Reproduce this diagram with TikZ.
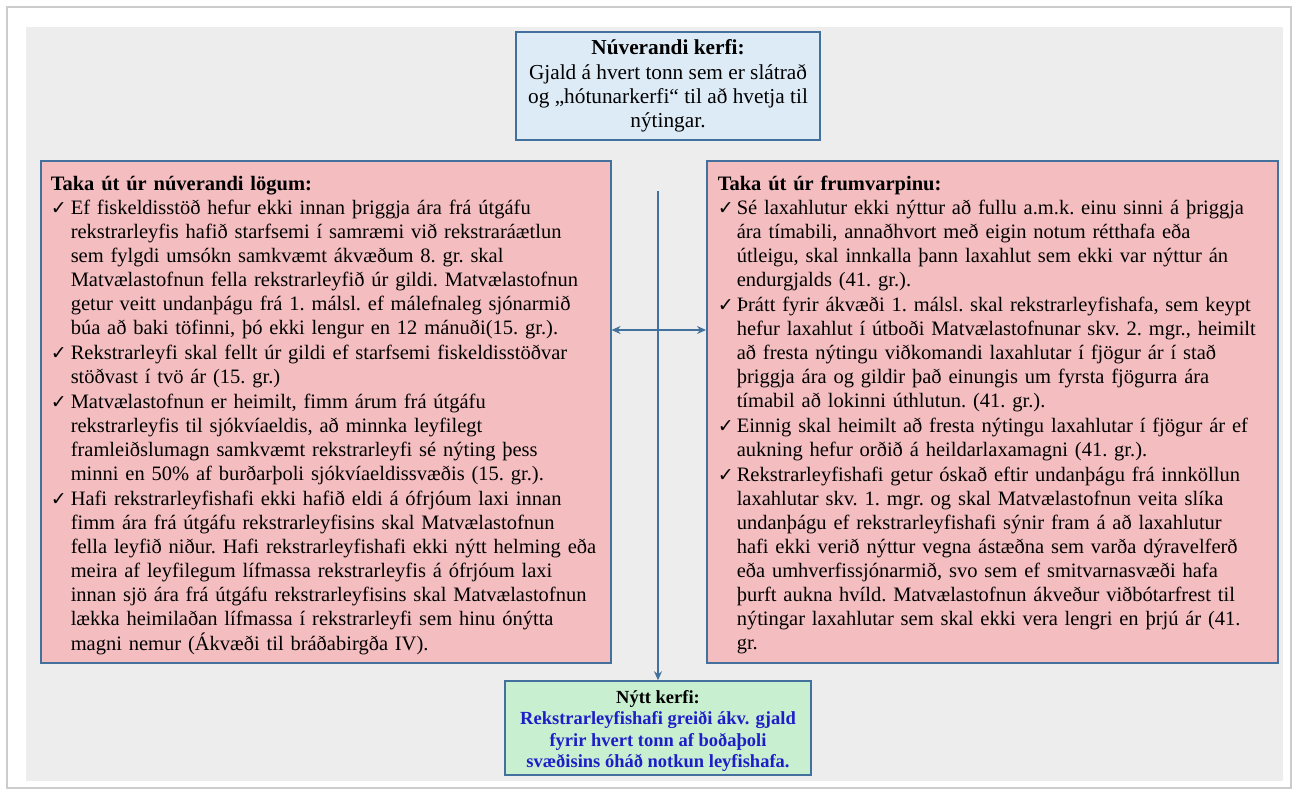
\documentclass[tikz,border=0pt]{standalone}
\usepackage{fontspec}
\setmainfont{Liberation Serif}
\newfontfamily\checkfont{DejaVu Sans}
\usetikzlibrary{arrows.meta}

\definecolor{panelgrey}{RGB}{237,237,237}
\definecolor{frameline}{RGB}{65,113,156}
\definecolor{pinkfill}{RGB}{244,190,193}
\definecolor{bluefill}{RGB}{221,235,247}
\definecolor{greenfill}{RGB}{200,240,208}
\definecolor{newtext}{RGB}{30,30,200}

% one ticked point: indent, then its lines
\newcommand{\chk}[2]{\par\noindent\makebox[#1][l]{\checkfont\fontsize{19}{19}\selectfont ✓}%
	\begin{tabular}[t]{@{}l@{}}#2\end{tabular}}
\newcommand{\boxhead}[1]{\rule{0pt}{24pt}{\fontsize{20.5}{24}\selectfont\textbf{#1}}}

\tikzset{
	lawbox/.style={draw=frameline, fill=pinkfill, line width=1.5pt, anchor=north west,
		inner xsep=10pt, inner ysep=3pt, minimum height=502pt,
		font=\fontsize{20.5}{24}\selectfont\frenchspacing},
	sysbox/.style={draw=frameline, line width=1.5pt, align=center, inner sep=4pt},
	link/.style={draw=frameline, line width=1.6pt}
}

\begin{document}
\begin{tikzpicture}[x=1pt, y=-1pt]
		\useasboundingbox (0,0) rectangle (1297,793);
		% page and grey panel
		\draw[white!80!black, line width=1.5pt, fill=white] (7,7) rectangle (1291,788);
		\fill[panelgrey] (26,27) rectangle (1283,781);

		\node[sysbox, fill=bluefill, minimum width=304pt, minimum height=108pt,
			font=\fontsize{21.3}{24.2}\selectfont] (oldsys) at (668,86)
			{\textbf{Núverandi kerfi:}\\ Gjald á hvert tonn sem er slátrað\\
			og „hótunarkerfi“ til að hvetja til\\ nýtingar.};

		\node[lawbox, text width=550pt] (oldlaw) at (40,160) {\parindent=0pt
			\boxhead{Taka út úr núverandi lögum:}
			\chk{20pt}{Ef fiskeldisstöð hefur ekki innan þriggja ára frá útgáfu\\
			rekstrarleyfis hafið starfsemi í samræmi við rekstraráætlun\\
			sem fylgdi umsókn samkvæmt ákvæðum 8. gr. skal\\
			Matvælastofnun fella rekstrarleyfið úr gildi. Matvælastofnun\\
			getur veitt undanþágu frá 1. málsl. ef málefnaleg sjónarmið\\
			búa að baki töfinni, þó ekki lengur en 12 mánuði(15. gr.).}
			\chk{20pt}{Rekstrarleyfi skal fellt úr gildi ef starfsemi fiskeldisstöðvar\\
			stöðvast í tvö ár (15. gr.)}
			\chk{20pt}{Matvælastofnun er heimilt, fimm árum frá útgáfu\\
			rekstrarleyfis til sjókvíaeldis, að minnka leyfilegt\\
			framleiðslumagn samkvæmt rekstrarleyfi sé nýting þess\\
			minni en 50\% af burðarþoli sjókvíaeldissvæðis (15. gr.).}
			\chk{20pt}{Hafi rekstrarleyfishafi ekki hafið eldi á ófrjóum laxi innan\\
			fimm ára frá útgáfu rekstrarleyfisins skal Matvælastofnun\\
			fella leyfið niður. Hafi rekstrarleyfishafi ekki nýtt helming eða\\
			meira af leyfilegum lífmassa rekstrarleyfis á ófrjóum laxi\\
			innan sjö ára frá útgáfu rekstrarleyfisins skal Matvælastofnun\\
			lækka heimilaðan lífmassa í rekstrarleyfi sem hinu ónýtta\\
			magni nemur (Ákvæði til bráðabirgða IV).}\par};

		\node[lawbox, text width=549pt, inner xsep=11pt] (bill) at (706,160) {\parindent=0pt
			\boxhead{Taka út úr frumvarpinu:}
			\chk{19pt}{Sé laxahlutur ekki nýttur að fullu a.m.k. einu sinni á þriggja\\
			ára tímabili, annaðhvort með eigin notum rétthafa eða\\
			útleigu, skal innkalla þann laxahlut sem ekki var nýttur án\\
			endurgjalds (41. gr.).}
			\chk{19pt}{Þrátt fyrir ákvæði 1. málsl. skal rekstrarleyfishafa, sem keypt\\
			hefur laxahlut í útboði Matvælastofnunar skv. 2. mgr., heimilt\\
			að fresta nýtingu viðkomandi laxahlutar í fjögur ár í stað\\
			þriggja ára og gildir það einungis um fyrsta fjögurra ára\\
			tímabil að lokinni úthlutun. (41. gr.).}
			\chk{19pt}{Einnig skal heimilt að fresta nýtingu laxahlutar í fjögur ár ef\\
			aukning hefur orðið á heildarlaxamagni (41. gr.).}
			\chk{19pt}{Rekstrarleyfishafi getur óskað eftir undanþágu frá innköllun\\
			laxahlutar skv. 1. mgr. og skal Matvælastofnun veita slíka\\
			undanþágu ef rekstrarleyfishafi sýnir fram á að laxahlutur\\
			hafi ekki verið nýttur vegna ástæðna sem varða dýravelferð\\
			eða umhverfissjónarmið, svo sem ef smitvarnasvæði hafa\\
			þurft aukna hvíld. Matvælastofnun ákveður viðbótarfrest til\\
			nýtingar laxahlutar sem skal ekki vera lengri en þrjú ár (41.\\
			gr.}\par};

		\node[sysbox, fill=greenfill, minimum width=306pt, minimum height=94pt, inner ysep=2pt,
			font=\bfseries\fontsize{18.5}{21.2}\selectfont] (newsys) at (658,728)
			{\rule{0pt}{19pt}Nýtt kerfi:\\ \textcolor{newtext}{Rekstrarleyfishafi greiði ákv. gjald}\\
			\textcolor{newtext}{fyrir hvert tonn af boðaþoli}\\
			\textcolor{newtext}{svæðisins óháð notkun leyfishafa.}};

		\coordinate (spine) at (658,191);
		\coordinate (cross) at (658,330);
		\draw[link, -{Stealth[length=9pt,width=8pt]}] (spine) -- (newsys.north);
		\draw[link, {Stealth[length=9pt,width=8pt]}-{Stealth[length=9pt,width=8pt]}]
			(oldlaw.east |- cross) -- (bill.west |- cross);
\end{tikzpicture}
\end{document}
